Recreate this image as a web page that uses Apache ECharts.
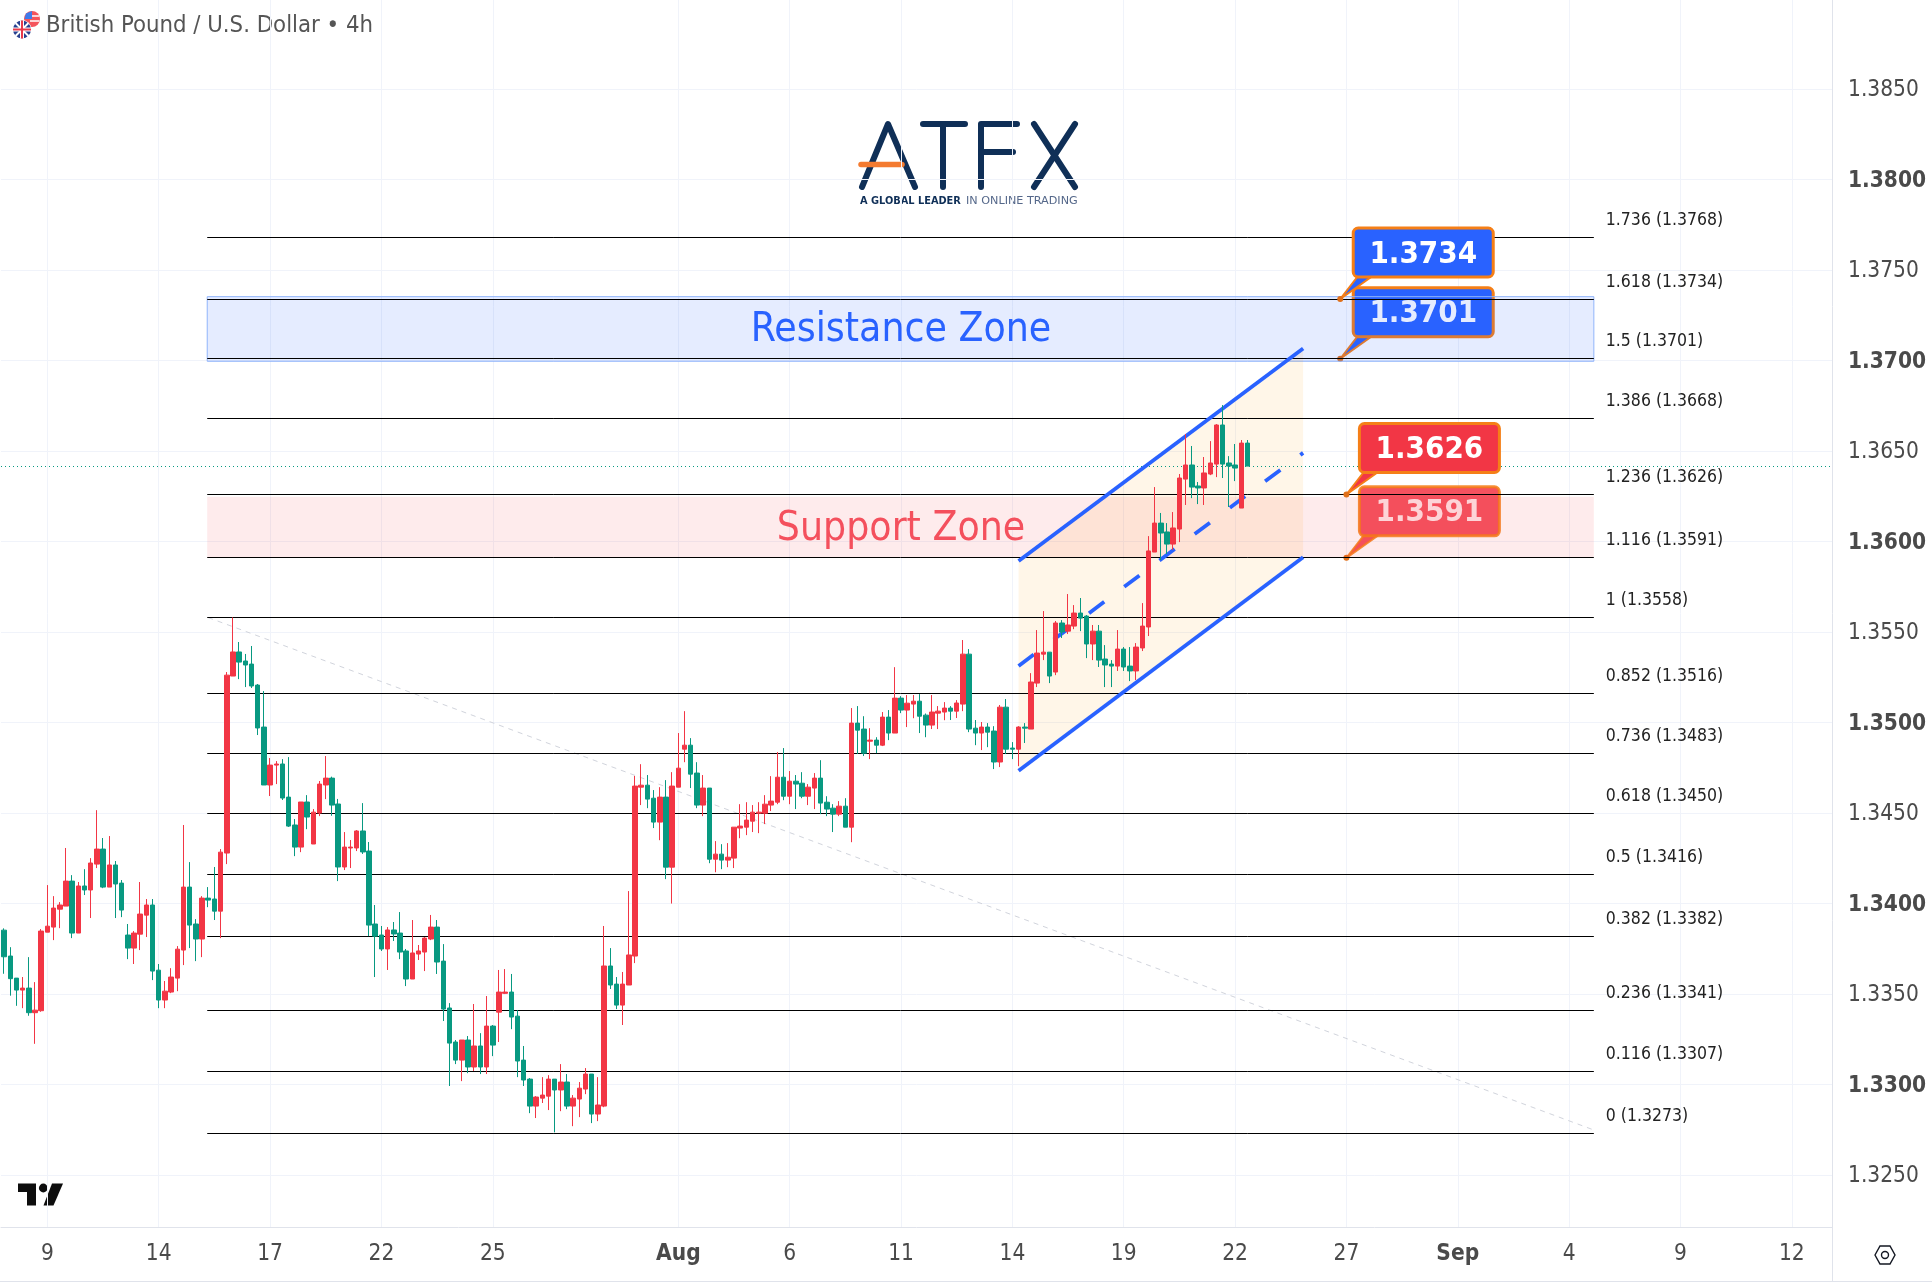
<!DOCTYPE html>
<html>
<head>
<meta charset="utf-8">
<style>html,body{margin:0;padding:0;background:#fff}#c{width:1932px;height:1284px}</style>
<script src="https://cdn.jsdelivr.net/npm/echarts@6/dist/echarts.min.js"></script>
</head>
<body>
<div id="c"></div>
<script>
const opens=[1.33853,1.33710,1.33588,1.33522,1.33533,1.33397,1.33408,1.33842,1.33870,1.33969,
1.33986,1.34124,1.33837,1.34097,1.34075,1.34218,1.34301,1.34091,1.34213,1.34113,
1.33826,1.33754,1.33831,1.33936,1.33992,1.33632,1.33467,1.33511,1.33588,1.33743,
1.34091,1.33887,1.33804,1.34030,1.34025,1.33958,1.34279,1.35257,1.35390,1.35340,
1.35323,1.35207,1.34975,1.34655,1.34765,1.34771,1.34588,1.34434,1.34312,1.34561,
1.34329,1.34500,1.34655,1.34693,1.34550,1.34202,1.34307,1.34307,1.34401,1.34290,
1.33887,1.33826,1.33749,1.33854,1.33837,1.33738,1.33583,1.33721,1.33732,1.33804,
1.33870,1.33682,1.33423,1.33235,1.33135,1.33246,1.33097,1.33213,1.33097,1.33323,
1.33400,1.33504,1.33511,1.33378,1.33135,1.33030,1.32881,1.32925,1.32936,1.33030,
1.32970,1.33014,1.32881,1.32920,1.32975,1.33058,1.32837,1.32881,1.33655,1.33555,
1.33439,1.33550,1.33710,1.34643,1.34654,1.34582,1.34450,1.34588,1.34201,1.34643,
1.34853,1.34875,1.34721,1.34544,1.34638,1.34245,1.34273,1.34240,1.34251,1.34417,
1.34422,1.34455,1.34499,1.34499,1.34544,1.34560,1.34698,1.34593,1.34676,1.34665,
1.34593,1.34638,1.34693,1.34560,1.34527,1.34494,1.34538,1.34422,1.34997,1.34964,
1.34897,1.34903,1.34875,1.35030,1.34942,1.35135,1.35069,1.35102,1.35118,1.35041,
1.34986,1.35052,1.35058,1.35080,1.35063,1.35102,1.35378,1.34969,1.34942,1.34975,
1.34953,1.34782,1.35085,1.34859,1.34853,1.34975,1.34964,1.35218,1.35378,1.35389,
1.35279,1.35550,1.35505,1.35533,1.35605,1.35588,1.35434,1.35505,1.35351,1.35323,
1.35312,1.35406,1.35312,1.35285,1.35412,1.35528,1.35942,1.36102,1.36053,1.35986,
1.36069,1.36345,1.36423,1.36307,1.36296,1.36373,1.36428,1.36644,1.36434,1.36423,
1.36185,1.36544];
const highs=[1.33863,1.33759,1.33588,1.33594,1.33704,1.33566,1.33859,1.34102,1.34041,1.34008,
1.34307,1.34157,1.34119,1.34190,1.34251,1.34516,1.34362,1.34373,1.34235,1.34130,
1.33887,1.33848,1.34119,1.34025,1.34025,1.33666,1.33572,1.33643,1.33765,1.34434,
1.34229,1.33914,1.34041,1.34091,1.34202,1.34301,1.35279,1.35581,1.35445,1.35379,
1.35423,1.35213,1.35174,1.34804,1.34787,1.34798,1.34809,1.34467,1.34561,1.34599,
1.34522,1.34677,1.34815,1.34701,1.34578,1.34395,1.34351,1.34406,1.34555,1.34340,
1.33992,1.33876,1.33870,1.33898,1.33953,1.33749,1.33909,1.33771,1.33815,1.33937,
1.33909,1.33776,1.33450,1.33246,1.33246,1.33268,1.33445,1.33284,1.33489,1.33329,
1.33633,1.33638,1.33611,1.33411,1.33213,1.33036,1.32936,1.33041,1.33052,1.33030,
1.33113,1.33058,1.32942,1.33014,1.33091,1.33058,1.33041,1.33876,1.33754,1.33594,
1.33622,1.34069,1.34705,1.34770,1.34710,1.34627,1.34643,1.34682,1.34726,1.34942,
1.35063,1.34914,1.34781,1.34710,1.34638,1.34345,1.34328,1.34334,1.34422,1.34549,
1.34560,1.34544,1.34560,1.34599,1.34704,1.34837,1.34859,1.34732,1.34710,1.34726,
1.34660,1.34721,1.34792,1.34593,1.34549,1.34566,1.34582,1.35080,1.35091,1.35035,
1.34969,1.34919,1.35058,1.35069,1.35306,1.35146,1.35152,1.35152,1.35157,1.35050,
1.35152,1.35091,1.35113,1.35091,1.35124,1.35456,1.35406,1.35014,1.35003,1.34997,
1.34980,1.35097,1.35130,1.34892,1.34980,1.34997,1.35273,1.35511,1.35616,1.35389,
1.35561,1.35566,1.35710,1.35649,1.35688,1.35594,1.35539,1.35539,1.35428,1.35345,
1.35511,1.35417,1.35417,1.35439,1.35660,1.36030,1.36301,1.36158,1.36102,1.36163,
1.36373,1.36594,1.36528,1.36329,1.36467,1.36555,1.36649,1.36754,1.36472,1.36539,
1.36561,1.36561];
const lows=[1.33612,1.33491,1.33435,1.33422,1.33380,1.33225,1.33402,1.33842,1.33798,1.33864,
1.33986,1.33809,1.33837,1.34047,1.33920,1.34196,1.34085,1.34091,1.33920,1.33925,
1.33693,1.33666,1.33743,1.33815,1.33577,1.33422,1.33422,1.33505,1.33516,1.33660,
1.33754,1.33682,1.33704,1.33980,1.33909,1.33809,1.34218,1.35257,1.35240,1.35196,
1.35191,1.34931,1.34655,1.34594,1.34660,1.34572,1.34423,1.34262,1.34284,1.34411,
1.34329,1.34483,1.34577,1.34485,1.34124,1.34185,1.34196,1.34290,1.34274,1.33820,
1.33594,1.33738,1.33633,1.33793,1.33693,1.33544,1.33583,1.33688,1.33627,1.33798,
1.33611,1.33351,1.32992,1.33113,1.33019,1.33063,1.33075,1.33058,1.33058,1.33157,
1.33235,1.33500,1.33306,1.33041,1.32992,1.32842,1.32815,1.32898,1.32859,1.32736,
1.32853,1.32864,1.32770,1.32820,1.32947,1.32787,1.32798,1.32875,1.33528,1.33417,
1.33329,1.33550,1.33671,1.34544,1.34527,1.34417,1.34350,1.34135,1.34000,1.34643,
1.34781,1.34638,1.34527,1.34483,1.34223,1.34173,1.34190,1.34201,1.34196,1.34361,
1.34378,1.34395,1.34389,1.34439,1.34511,1.34549,1.34571,1.34549,1.34522,1.34582,
1.34544,1.34522,1.34494,1.34483,1.34395,1.34483,1.34422,1.34339,1.34826,1.34815,
1.34798,1.34831,1.34870,1.34903,1.34942,1.35052,1.34975,1.35024,1.34942,1.34919,
1.34964,1.34964,1.35013,1.35014,1.35025,1.35063,1.34947,1.34875,1.34848,1.34864,
1.34743,1.34754,1.34826,1.34798,1.34759,1.34887,1.34964,1.35196,1.35345,1.35218,
1.35262,1.35467,1.35489,1.35516,1.35505,1.35356,1.35345,1.35307,1.35196,1.35196,
1.35285,1.35285,1.35229,1.35235,1.35395,1.35478,1.35942,1.35898,1.35931,1.35953,
1.35997,1.36202,1.36240,1.36207,1.36202,1.36367,1.36356,1.36351,1.36191,1.36334,
1.36185,1.36417];
const closes=[1.33706,1.33585,1.33522,1.33533,1.33397,1.33411,1.33848,1.33875,1.33975,1.33992,
1.34124,1.33837,1.34097,1.34075,1.34224,1.34301,1.34091,1.34213,1.34108,1.33964,
1.33754,1.33837,1.33942,1.33992,1.33627,1.33467,1.33516,1.33594,1.33748,1.34091,
1.33881,1.33804,1.34030,1.34019,1.33958,1.34284,1.35262,1.35390,1.35334,1.35318,
1.35202,1.34970,1.34655,1.34765,1.34771,1.34583,1.34428,1.34312,1.34561,1.34478,
1.34505,1.34660,1.34693,1.34544,1.34202,1.34312,1.34312,1.34401,1.34285,1.33881,
1.33820,1.33749,1.33854,1.33832,1.33732,1.33583,1.33727,1.33738,1.33809,1.33870,
1.33677,1.33417,1.33229,1.33135,1.33246,1.33097,1.33213,1.33097,1.33323,1.33218,
1.33511,1.33511,1.33373,1.33130,1.33025,1.32881,1.32931,1.32942,1.33030,1.32970,
1.33014,1.32881,1.32925,1.32980,1.33058,1.32837,1.32887,1.33655,1.33550,1.33439,
1.33555,1.33716,1.34649,1.34654,1.34577,1.34450,1.34588,1.34201,1.34649,1.34748,
1.34875,1.34715,1.34544,1.34638,1.34245,1.34273,1.34240,1.34256,1.34422,1.34428,
1.34461,1.34505,1.34505,1.34549,1.34566,1.34698,1.34593,1.34676,1.34660,1.34593,
1.34643,1.34693,1.34555,1.34522,1.34494,1.34538,1.34422,1.34997,1.34958,1.34831,
1.34903,1.34875,1.35030,1.34942,1.35135,1.35069,1.35107,1.35118,1.35035,1.34986,
1.35058,1.35063,1.35080,1.35063,1.35108,1.35378,1.34964,1.34942,1.34975,1.34947,
1.34782,1.35085,1.34853,1.34853,1.34975,1.34969,1.35224,1.35384,1.35389,1.35257,
1.35550,1.35500,1.35539,1.35605,1.35577,1.35434,1.35505,1.35345,1.35318,1.35312,
1.35406,1.35307,1.35285,1.35417,1.35533,1.35948,1.36102,1.36047,1.35986,1.36075,
1.36351,1.36423,1.36301,1.36296,1.36379,1.36434,1.36644,1.36428,1.36417,1.36406,
1.36544,1.36417];

const barCount = 296;
const categories = Array.from({length: barCount}, (_, i) => String(i));
const xTickIdx = [7,25,43,61,79,109,127,145,163,181,199,217,235,253,271,289];
const xTickLabels = ['9','14','17','22','25','Aug','6','11','14','19','22','27','Sep','4','9','12'];
const yTicks = [1.325,1.33,1.335,1.34,1.345,1.35,1.355,1.36,1.365,1.37,1.375,1.38,1.385];

const fibRatios = ['1.736','1.618','1.5','1.386','1.236','1.116','1','0.852','0.736','0.618','0.5','0.382','0.236','0.116','0'];
const fibPrices = [1.3768,1.3734,1.3701,1.3668,1.3626,1.3591,1.3558,1.3516,1.3483,1.3450,1.3416,1.3382,1.3341,1.3307,1.3273];
const fibRange = [33,257];
const trendIdx = [33,257];
const trendPrices = [1.3558,1.32749];

const channelIdx = [164,210];
const channelUpper = [1.35892,1.37067];
const channelMid = [1.35313,1.36490];
const channelLower = [1.34734,1.35913];

const zoneNames = ['Resistance Zone','Support Zone'];
const zoneTops = [1.37353,1.36247];
const zoneBottoms = [1.36996,1.35912];

const calloutText = ['1.3734','1.3701','1.3626','1.3591'];
const calloutPrices = [1.3734,1.3701,1.3626,1.3591];
const calloutIdx = [216,216,217,217];

const FONT = '"DejaVu Sans Condensed","DejaVu Sans",sans-serif';
const TXT = '#4a4a4a', GRID = '#f0f3fa', AXIS = '#e0e3eb', UP = '#f23645', DOWN = '#089981', BLUE = '#2962ff', ORANGE='#f57f17';

const xTickSet = new Set(xTickIdx);
const crisp = v => Math.round(v) + 0.5;

function lineEl(api, i0, p0, i1, p1, style){
  const a = api.coord([i0,p0]), b = api.coord([i1,p1]);
  return {type:'line', shape:{x1:a[0],y1:a[1],x2:b[0],y2:b[1]}, style};
}
function callout(api, k){
  const a = api.coord([calloutIdx[k], calloutPrices[k]]);
  const faded = k === 3 ? 0.86 : 1;
  const col = k < 2 ? BLUE : UP;
  const bx = a[0] + 13, by = a[1] - 71, w = 140, h = 49;
  return {type:'group', children:[
    {type:'polygon', shape:{points:[[a[0],a[1]],[bx+4,by+h],[bx+18,by+h]]}, style:{fill:col, stroke:ORANGE, lineWidth:2, lineJoin:'round', opacity:faded}},
    {type:'rect', shape:{x:bx,y:by,width:w,height:h,r:5}, style:{fill:col, stroke:ORANGE, lineWidth:3, opacity:faded}},
    {type:'circle', shape:{cx:a[0],cy:a[1],r:3}, style:{fill:'#e0701a'}},
    {type:'text', style:{x:bx+w/2,y:by+h/2+2,text:calloutText[k],fill:'#fff',font:'600 31px '+FONT,textAlign:'center',textVerticalAlign:'middle',opacity:faded}}
  ]};
}

const chart = echarts.init(document.getElementById('c'), null, {renderer:'canvas', width:1932, height:1284});
const option = {
  animation:false,
  backgroundColor:'#fff',
  grid:{left:1,right:100,top:0,height:1227,containLabel:false},
  xAxis:{
    type:'category', data:categories, boundaryGap:true,
    axisLine:{show:true,lineStyle:{color:AXIS,width:1}},
    axisTick:{show:false,alignWithLabel:true},
    axisLabel:{
      interval:(i)=>xTickSet.has(i), margin:16, color:TXT, fontFamily:FONT, fontSize:22.5, hideOverlap:false,
      formatter:(v)=>{const k=xTickIdx.indexOf(+v); if(k<0) return ''; const t=xTickLabels[k]; return /[A-Za-z]/.test(t)?'{b|'+t+'}':t;},
      rich:{b:{fontWeight:'bold',color:TXT,fontFamily:FONT,fontSize:22.5}}
    },
    splitLine:{show:true,alignWithLabel:true,interval:(i)=>xTickSet.has(i),lineStyle:{color:GRID,width:1}}
  },
  yAxis:{
    type:'value', position:'right', min:1.32213, max:1.38992, scale:true,
    axisLine:{show:true,onZero:false,lineStyle:{color:AXIS,width:1}},
    axisTick:{show:false,customValues:yTicks},
    axisLabel:{
      customValues:yTicks, margin:16, padding:[3,0,0,0], color:TXT, fontFamily:FONT, fontSize:22.5,
      formatter:(v)=>{const s=(+v).toFixed(4); return s[4]==='0'&&s[5]==='0'?'{b|'+s+'}':s;},
      rich:{b:{fontWeight:'bold',color:TXT,fontFamily:FONT,fontSize:22.5}}
    },
    splitLine:{show:true,lineStyle:{color:GRID,width:1}}
  },
  series:[
    {type:'custom', z:2, silent:true, clip:false, data:[[0],[1]], renderItem:(p,api)=>callout(api,[1,3][p.dataIndex])},
    {type:'custom', z:3, silent:true, clip:false, data:zoneNames.map((_,i)=>[i]), renderItem:(p,api)=>{
      const i=p.dataIndex, a=api.coord([fibRange[0],zoneTops[i]]), b=api.coord([fibRange[1],zoneBottoms[i]]);
      const col=i===0?BLUE:UP;
      return {type:'group',children:[
        {type:'rect',shape:{x:a[0]-1,y:a[1],width:b[0]-a[0]+1,height:b[1]-a[1]},style:{fill:i===0?'rgba(41,98,255,0.12)':'rgba(242,54,69,0.1)',stroke:i===0?'#90b4fb':'transparent',lineWidth:1}},
        {type:'text',style:{x:(a[0]+b[0])/2,y:(a[1]+b[1])/2+2,text:zoneNames[i],fill:i===0?col:'#f4505d',font:'40.5px '+FONT,textAlign:'center',textVerticalAlign:'middle'}}
      ]};
    }},
    {type:'custom', z:4, silent:true, clip:false, data:[[0]], renderItem:(p,api)=>{
      const pts=[api.coord([channelIdx[0],channelUpper[0]]),api.coord([channelIdx[1],channelUpper[1]]),api.coord([channelIdx[1],channelLower[1]]),api.coord([channelIdx[0],channelLower[0]])];
      return {type:'polygon',shape:{points:pts},style:{fill:'rgba(255,152,0,0.09)'}};
    }},
    {type:'custom', z:5, silent:true, clip:false, data:[[0]], renderItem:(p,api)=>lineEl(api,trendIdx[0],trendPrices[0],trendIdx[1],trendPrices[1],{stroke:'#d1d4dc',lineWidth:1,lineDash:[5,5]})},
    {type:'custom', z:5, silent:true, clip:false, data:fibPrices.map((_,i)=>[i]), renderItem:(p,api)=>{
      const i=p.dataIndex, a=api.coord([fibRange[0],fibPrices[i]]), b=api.coord([fibRange[1],fibPrices[i]]);
      const y=crisp(a[1]-0.5);
      return {type:'group',children:[
        {type:'line',shape:{x1:a[0]-1,y1:y,x2:b[0],y2:y},style:{stroke:'#000',lineWidth:1}},
        {type:'text',style:{x:b[0]+12,y:y-17,text:fibRatios[i]+' ('+fibPrices[i].toFixed(4)+')',fill:'#222',font:'17.5px '+FONT,textAlign:'left',textVerticalAlign:'middle'}}
      ]};
    }},
    {type:'custom', z:5, silent:true, clip:false, data:[[0]], renderItem:(p,api)=>{
      const y=crisp(api.coord([0,closes[closes.length-1]])[1]-0.5), r=p.coordSys;
      return {type:'line',shape:{x1:r.x,y1:y,x2:r.x+r.width,y2:y},style:{stroke:DOWN,lineWidth:1,lineDash:[1,3]}};
    }},
    {type:'custom', z:6, silent:true, clip:false, data:[[0]], renderItem:(p,api)=>({type:'group',children:[
      lineEl(api,channelIdx[0],channelUpper[0],channelIdx[1],channelUpper[1],{stroke:BLUE,lineWidth:3.8}),
      lineEl(api,channelIdx[0],channelLower[0],channelIdx[1],channelLower[1],{stroke:BLUE,lineWidth:3.8}),
      lineEl(api,channelIdx[0],channelMid[0],channelIdx[1],channelMid[1],{stroke:BLUE,lineWidth:3.8,lineDash:[19,25]})
    ]})},
    {type:'custom', z:7, silent:true, clip:false, data:[[0],[1]], renderItem:(p,api)=>callout(api,[0,2][p.dataIndex])},
    {
      type:'candlestick', z:10, silent:true, barWidth:5,
      data:opens.map((o,i)=>[o,closes[i],lows[i],highs[i]]),
      itemStyle:{color:UP,color0:DOWN,borderColor:UP,borderColor0:DOWN,borderWidth:1}
    }
  ],
  graphic:[
    {type:'group',z:50,children:[
      {type:'circle',shape:{cx:32,cy:19,r:8},style:{fill:'#f4545c'}},
      {type:'polygon',shape:{points:[[24.5,19],[26,13.5],[32,11],[32,19]]},style:{fill:'#3f7bea'}},
      {type:'line',shape:{x1:32,y1:16,x2:39.5,y2:16},style:{stroke:'#fff',lineWidth:1.5}},
      {type:'line',shape:{x1:30,y1:21,x2:39.5,y2:21},style:{stroke:'#fff',lineWidth:1.5}},
      {type:'circle',shape:{cx:22,cy:29.5,r:9.5},style:{fill:'#fff'}},
      {type:'circle',shape:{cx:22,cy:29.5,r:9},style:{fill:'#27408f'}},
      {type:'line',shape:{x1:15.5,y1:23,x2:28.5,y2:36},style:{stroke:'#fff',lineWidth:2}},
      {type:'line',shape:{x1:28.5,y1:23,x2:15.5,y2:36},style:{stroke:'#fff',lineWidth:2}},
      {type:'line',shape:{x1:22,y1:20.5,x2:22,y2:38.5},style:{stroke:'#fff',lineWidth:4}},
      {type:'line',shape:{x1:13,y1:29.5,x2:31,y2:29.5},style:{stroke:'#fff',lineWidth:4}},
      {type:'line',shape:{x1:22,y1:20.5,x2:22,y2:38.5},style:{stroke:'#e8394a',lineWidth:2}},
      {type:'line',shape:{x1:13,y1:29.5,x2:31,y2:29.5},style:{stroke:'#e8394a',lineWidth:2}},
      {type:'text',style:{x:46,y:26,text:'British Pound / U.S. Dollar • 4h',fill:'#555',font:'23.7px '+FONT,textVerticalAlign:'middle'}}
    ]},
    {type:'group',z:50,children:[
      {type:'polyline',shape:{points:[[862,187],[888,124],[915,187]]},style:{stroke:'#0f2f57',lineWidth:6,fill:'none',lineCap:'round',lineJoin:'round'}},
      {type:'line',shape:{x1:923,y1:124,x2:965,y2:124},style:{stroke:'#0f2f57',lineWidth:6,lineCap:'round'}},
      {type:'line',shape:{x1:943,y1:124,x2:943,y2:187},style:{stroke:'#0f2f57',lineWidth:6,lineCap:'round'}},
      {type:'polyline',shape:{points:[[1017,124],[981,124],[981,187]]},style:{stroke:'#0f2f57',lineWidth:6,fill:'none',lineCap:'round',lineJoin:'round'}},
      {type:'line',shape:{x1:981,y1:152,x2:1013,y2:152},style:{stroke:'#0f2f57',lineWidth:6,lineCap:'round'}},
      {type:'line',shape:{x1:1034,y1:124,x2:1075,y2:187},style:{stroke:'#0f2f57',lineWidth:6,lineCap:'round'}},
      {type:'line',shape:{x1:1075,y1:124,x2:1034,y2:187},style:{stroke:'#0f2f57',lineWidth:6,lineCap:'round'}},
      {type:'line',shape:{x1:861,y1:164.5,x2:902,y2:164.5},style:{stroke:'#f47b30',lineWidth:5.5,lineCap:'round'}},
      {type:'text',style:{x:860,y:201,text:'A GLOBAL LEADER',fill:'#0f2f57',font:'bold 9.8px "DejaVu Sans"',textVerticalAlign:'middle'}},
      {type:'text',style:{x:966,y:201,text:'IN ONLINE TRADING',fill:'#55688a',font:'11.2px "DejaVu Sans"',textVerticalAlign:'middle'}}
    ]},
    {type:'group',z:50,children:[
      {type:'polygon',shape:{points:[[18,1183.5],[36,1183.5],[36,1205.5],[27,1205.5],[27,1192],[18,1192]]},style:{fill:'#0d0d0d'}},
      {type:'circle',shape:{cx:43.3,cy:1188,r:4.4},style:{fill:'#0d0d0d'}},
      {type:'polygon',shape:{points:[[52,1183.5],[63,1183.5],[53.5,1205.5],[43.5,1205.5]]},style:{fill:'#0d0d0d'}}
    ]},
    {type:'group',z:50,children:[
      {type:'line',shape:{x1:0,y1:1281.5,x2:1932,y2:1281.5},style:{stroke:AXIS,lineWidth:1}},
      {type:'line',shape:{x1:1832.5,y1:1227,x2:1832.5,y2:1282},style:{stroke:AXIS,lineWidth:1}},
      {type:'polygon',shape:{points:[[1875,1255],[1880,1246],[1890,1246],[1895,1255],[1890,1264],[1880,1264]]},style:{fill:'none',stroke:'#131722',lineWidth:1.4}},
      {type:'circle',shape:{cx:1885,cy:1255,r:3.5},style:{fill:'none',stroke:'#131722',lineWidth:1.4}}
    ]}
  ]
};
chart.setOption(option);
</script>
</body>
</html>
